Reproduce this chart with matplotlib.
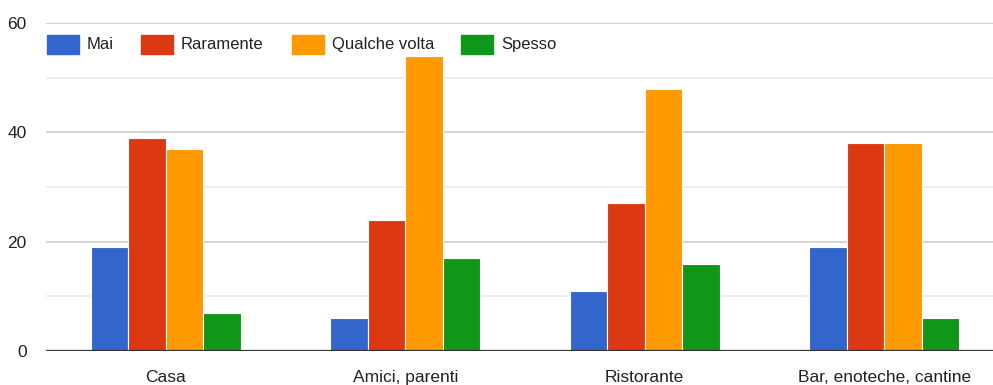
import matplotlib
matplotlib.use("Agg")
import matplotlib.pyplot as plt
from matplotlib.patches import Rectangle
import numpy as np

categories = ["Casa", "Amici, parenti", "Ristorante", "Bar, enoteche, cantine"]
series_names = ["Mai", "Raramente", "Qualche volta", "Spesso"]
mai = [19, 6, 11, 19]
raramente = [39, 24, 27, 38]
qualche_volta = [37, 54, 48, 38]
spesso = [7, 17, 16, 6]
y_ticks = [0, 20, 40, 60]

colors = ["#3366cc", "#dc3912", "#ff9900", "#109618"]
series = [mai, raramente, qualche_volta, spesso]

plt.rcParams["font.family"] = ["Liberation Sans", "DejaVu Sans"]

W, H = 993, 385
fig = plt.figure(figsize=(W / 100, H / 100), dpi=100)
left, right_px = 46, 993
bottom_px, top_px = 351, 23
ax = fig.add_axes([left / W, (H - bottom_px) / H, (right_px - left) / W, (bottom_px - top_px) / H])

px_per_unit = 239.5
xmin = -0.5
xmax = xmin + (right_px - left) / px_per_unit
ax.set_xlim(xmin, xmax)
ax.set_ylim(0, 60)

bar_w = 37.5 / px_per_unit
x = np.arange(len(categories))
for i, (vals, c) in enumerate(zip(series, colors)):
    ax.bar(x + (i - 1.5) * bar_w, vals, width=bar_w, color=c,
           edgecolor="white", linewidth=0.8, zorder=3)

# gridlines
for v in range(10, 61, 10):
    ax.axhline(v, color="#cccccc" if v % 20 == 0 else "#ebebeb",
               linewidth=1.2, zorder=1)
ax.axhline(0, color="#333333", linewidth=1.6, zorder=4)

for s in ax.spines.values():
    s.set_visible(False)
ax.set_yticks(y_ticks)
ax.set_yticklabels([str(t) for t in y_ticks])
ax.set_xticks(x)
ax.set_xticklabels(categories)
ax.tick_params(axis="both", length=0, labelsize=12.5, colors="#222222")
ax.tick_params(axis="y", pad=14)
ax.tick_params(axis="x", pad=14)

# legend row along the top
leg_y = (H - 54) / H
sw_h = 19 / H
sw_w = 32 / W
positions = [47, 141, 292, 461]
for px, name, c in zip(positions, series_names, colors):
    fig.patches.append(Rectangle((px / W, leg_y), sw_w, sw_h, color=c,
                                 transform=fig.transFigure, figure=fig))
    fig.text((px + 40) / W, leg_y + sw_h / 2, name, fontsize=12,
             color="#222222", va="center", ha="left")

fig.savefig("out.png", dpi=100)
